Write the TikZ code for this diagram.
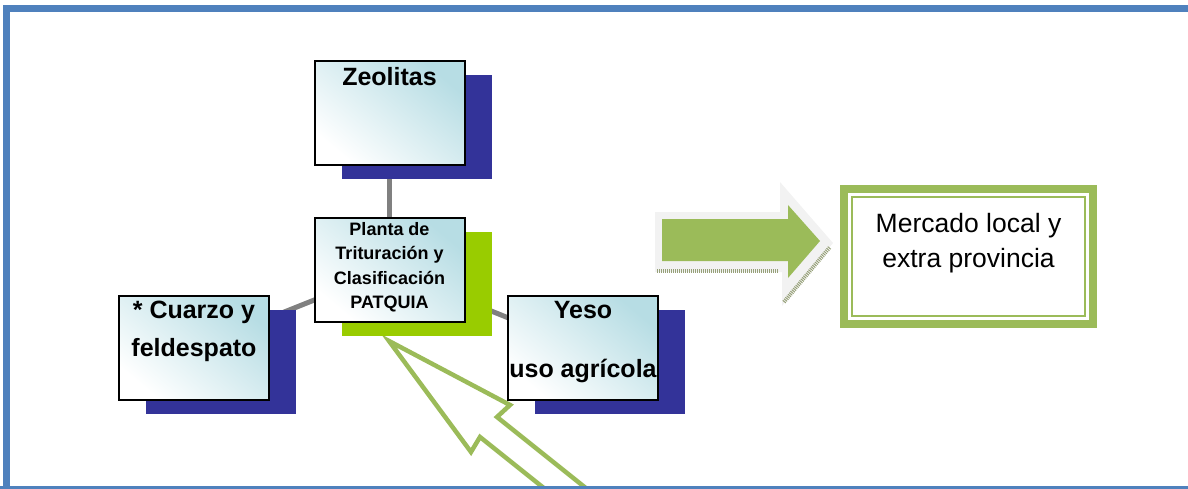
\documentclass[tikz,border=0pt]{standalone}
\usepackage{fontspec}
\setmainfont{Liberation Sans}
\usepackage{tikz}
\usetikzlibrary{positioning,shadows,backgrounds}
\definecolor{marco}{RGB}{79,129,189}
\definecolor{azulsombra}{RGB}{51,51,153}
\definecolor{verdesombra}{RGB}{153,204,0}
\definecolor{verde}{RGB}{155,187,89}
\definecolor{celeste}{RGB}{183,221,228}
\definecolor{conector}{RGB}{128,128,128}
\definecolor{sombraflecha}{RGB}{242,242,242}
\definecolor{rayado}{RGB}{150,160,120}
\tikzset{%
    caja/.style={%
        draw=black, line width=2pt, outer sep=0pt,
        minimum width=150pt, minimum height=104pt,
        top color=celeste, bottom color=white, shading angle=-40,
        general shadow={shadow xshift=27pt, shadow yshift=-14pt, fill=#1}
    },
    caja/.default=azulsombra,
    texto/.style={inner sep=0pt, align=center, font=\bfseries\fontsize{25}{38}\selectfont},
    enlace/.style={draw=conector, line width=5pt},
    mercado/.style={draw=verde, line width=8pt, outer sep=0pt, fill=white,
        minimum width=249pt, minimum height=135pt}
}

\begin{document}
\begin{tikzpicture}[x=1pt,y=-1pt]
    \useasboundingbox (0,0) rectangle (1188,489);

    \node[caja] (zeolitas) at (389.5,113.5) {};
    \node[texto, below=6pt of zeolitas.north] (tzeolitas) {Zeolitas};

    \node[caja=verdesombra] (planta) at (389.5,270) {};
    \node[texto, font=\bfseries\fontsize{18}{24.5}\selectfont, below=4pt of planta.north] (tplanta) {Planta de\\Trituración y\\Clasificación\\PATQUIA};

    \node[caja] (cuarzo) at (194,348) {};
    \node[texto, below=4.5pt of cuarzo.north] (tcuarzo) {* Cuarzo y\\feldespato};

    \node[caja] (yeso) at (583,348) {};
    \node[texto, below=5pt of yeso.north] (tyeso) {Yeso\\[21pt]uso agrícola};

    \begin{scope}[on background layer]
        \draw[enlace] (zeolitas.center) -- (planta.center);
        \draw[enlace] (planta.center) -- (cuarzo.center);
        \draw[enlace] (planta.center) -- (yeso.center);
        \draw[verde, line width=4.5pt, line join=miter] (555,497) -- (480,437) -- (471,452) -- (389,341) -- (510,405) -- (497,417) -- (597,497);
    \end{scope}

    \fill[sombraflecha] (655,212) -- (780,212) -- (780,182) -- (833,243) -- (782,306) -- (782,272) -- (655,272) -- cycle;
    \draw[rayado, line width=4pt, dash pattern=on 1pt off 1pt] (657,271) -- (779,271);
    \draw[rayado, line width=4pt, dash pattern=on 1pt off 1pt] (784,302) -- (830,247);
    \fill[verde] (662,219) -- (788,219) -- (788,205) -- (820,241) -- (788,278) -- (788,261) -- (662,261) -- cycle;

    \node[mercado] (mercado) at (968.5,256.5) {};
    \draw[verde, line width=2.5pt] ([shift={(8pt,-8pt)}]mercado.north west) rectangle ([shift={(-8pt,8pt)}]mercado.south east);
    \node[inner sep=0pt, align=center, font=\fontsize{26.5}{35}\selectfont, below=24.5pt of mercado.north] (tmercado) {Mercado local y\\extra provincia};

    \draw[marco, line width=6.75pt] (6.5,495) -- (6.5,8.7) -- (1195,8.7);
    \draw[marco, line width=2.5pt] (0,487.5) -- (1195,487.5);
\end{tikzpicture}
\end{document}
